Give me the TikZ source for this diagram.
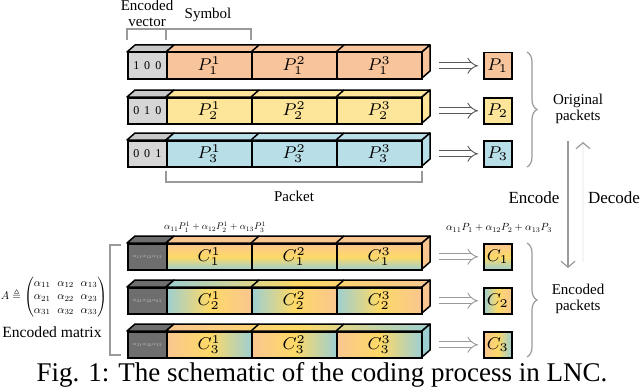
\RequirePackage{fix-cm}
\documentclass[tikz,border=0pt]{standalone}
\usepackage{amsmath,amssymb}
\usepackage[no-math]{fontspec}
\setmainfont{Liberation Serif}
\usetikzlibrary{arrows.meta, positioning, calc, decorations.pathreplacing}
\definecolor{porng}{HTML}{F8C49C}
\definecolor{pyell}{HTML}{FDE59A}
\definecolor{pblue}{HTML}{B8DEE8}
\definecolor{vgrey}{HTML}{D6D6D6}
\definecolor{vtop}{HTML}{C8C8C8}
\definecolor{mgrey}{HTML}{6E6E6E}
\definecolor{corng}{HTML}{F9C690}
\definecolor{cyell}{HTML}{FED966}
\definecolor{cteal}{HTML}{9DCFD2}
\definecolor{lgrey}{HTML}{9A9A9A}
\tikzset{
  every picture/.style={x=0.5pt, y=-0.5pt, line width=0.6pt},
  seg/.style={draw, line width=0.75pt, anchor=north west, minimum width=42.5pt, minimum height=13pt, inner sep=0pt, font=\fontsize{8.5}{9}\selectfont},
  vec/.style={seg, minimum width=19.5pt, font=\fontsize{6}{7}\selectfont},
  sbox/.style={seg, minimum width=14pt},
  face/.style={draw, line width=0.75pt, line join=round},
  gv/.style={top color=corng, bottom color=cteal, middle color=cyell},
  gl/.style={left color=cteal, right color=corng, middle color=cyell},
  gr/.style={left color=corng, right color=cteal, middle color=cyell},
  flat/.style={fill=corng},
  pipe/.style={draw=#1, double=white, double distance=2.4pt, line width=0.45pt, -{Implies}, shorten <=8pt, shorten >=2.5pt},
  pipe/.default=black!65,
  bracket/.style={draw=lgrey, line width=0.6pt},
  lbl/.style={font=\fontsize{7.5}{8}\selectfont, align=center},
}
\begin{document}
\begin{tikzpicture}
  \useasboundingbox (0,0) rectangle (640,390);
  % header: vector and symbol
  \draw[bracket] (127,40) -- (127,29) -- (251,29) -- (251,40) (166,29) -- (166,40);
  \node[lbl] (vectxt) at (147,13) {Encoded\\vector};
  \node[lbl] (symtxt) at (208,15) {Symbol};
  % original packets
  \foreach \r/\yt/\col/\v in {1/52/porng/{1 \,0 \,0}, 2/97/pyell/{0 \,1 \,0}, 3/140/pblue/{0 \,0 \,1}} {
    \filldraw[face, fill=vtop] (127,\yt) -- ++(8,-7) -- ++(39,0) -- (166,\yt) -- cycle;
    \filldraw[face, fill=\col] (166,\yt) -- ++(8,-7) -- (430,\yt-7) -- (422,\yt) -- cycle;
    \filldraw[face, fill=\col] (422,\yt) -- (430,\yt-7) -- (430,\yt+19) -- (422,\yt+26) -- cycle;
    \draw[face] (251,\yt) -- ++(8,-7) (336,\yt) -- ++(8,-7);
    \node[vec, fill=vgrey] (v\r) at (127,\yt) {\v};
    \node[seg, fill=\col] (p\r-1) at (166,\yt) {$P_{\r}^{1}$};
    \node[seg, fill=\col] (p\r-2) at (251,\yt) {$P_{\r}^{2}$};
    \node[seg, fill=\col] (p\r-3) at (336,\yt) {$P_{\r}^{3}$};
    \node[sbox, fill=\col] (sp\r) at (483,\yt) {$P_{\r}$};
    \draw[pipe] (p\r-3.east) -- (sp\r.west);
  }
  \draw[bracket] (166,171) -- (166,182) -- (422,182) -- (422,171);
  \node[lbl] (pkttxt) at (294,196) {Packet};
  \draw[bracket, decorate, decoration={brace, amplitude=5pt}] (527,52) -- (527,167);
  \node[lbl] (origtxt) at (578,109) {Original\\packets};
  % encode / decode
  \coordinate (enc0) at (568,141);
  \coordinate (enc1) at (568,268);
  \coordinate (dec0) at (583,262);
  \coordinate (dec1) at (583,142);
  \draw[draw=lgrey, -{Straight Barb[length=3pt, width=7pt]}] (enc0) -- (enc1);
  \draw[draw=gray!8, -{Straight Barb[length=3pt, width=7pt, color=lgrey]}] (dec0) -- (dec1);
  \node[lbl, font=\fontsize{8.5}{9}\selectfont] (enctxt) at (534,198) {Encode};
  \node[lbl, font=\fontsize{8.5}{9}\selectfont] (dectxt) at (614,198) {Decode};
  % encoded packets
  \node (sumsym) at (215,227) {\scalebox{0.48}{$\alpha_{11}P_1^1+\alpha_{12}P_2^1+\alpha_{13}P_3^1$}};
  \node (sumpkt) at (499,228) {\scalebox{0.52}{$\alpha_{11}P_1+\alpha_{12}P_2+\alpha_{13}P_3$}};
  \foreach \r/\yt/\sh/\tf/\sc in {1/243/gv/flat/corng, 2/287/gl/gl/corng, 3/331/gr/gr/cteal} {
    \filldraw[face, fill=mgrey] (127,\yt) -- ++(8,-7) -- ++(39,0) -- (166,\yt) -- cycle;
    \path[\tf] (166,\yt) -- ++(8,-7) -- (430,\yt-7) -- (422,\yt) -- cycle;
    \draw[face] (166,\yt) -- ++(8,-7) -- (430,\yt-7) -- (422,\yt) -- cycle;
    \filldraw[face, fill=\sc] (422,\yt) -- (430,\yt-7) -- (430,\yt+19) -- (422,\yt+26) -- cycle;
    \draw[face] (251,\yt) -- ++(8,-7) (336,\yt) -- ++(8,-7);
    \node[vec, fill=mgrey, text=gray!40] (a\r) at (127,\yt) {\scalebox{0.4}{$\alpha_{\r1}\alpha_{\r2}\alpha_{\r3}$}};
    \node[seg, \sh] (c\r-1) at (166,\yt) {$C_{\r}^{1}$};
    \node[seg, \sh] (c\r-2) at (251,\yt) {$C_{\r}^{2}$};
    \node[seg, \sh] (c\r-3) at (336,\yt) {$C_{\r}^{3}$};
    \node[sbox, \sh] (sc\r) at (483,\yt) {$C_{\r}$};
    \draw[pipe=lgrey] (c\r-3.east) -- (sc\r.west);
  }
  \draw[bracket, decorate, decoration={brace, amplitude=5pt}] (527,243) -- (527,357);
  \node[lbl] (enctxt2) at (578,299) {Encoded\\packets};
  % encoded matrix
  \draw[bracket] (121,245) -- (110,245) -- (110,355) -- (121,355);
  \node[inner sep=0pt] (amat) at (54,297)
    {\scalebox{0.56}{\setlength\arraycolsep{3pt}$A \triangleq \begin{pmatrix} \alpha_{11} & \alpha_{12} & \alpha_{13}\\ \alpha_{21} & \alpha_{22} & \alpha_{23}\\ \alpha_{31} & \alpha_{32} & \alpha_{33}\end{pmatrix}$}};
  \node[lbl, font=\fontsize{7.8}{9}\selectfont] (mattxt) at (52,332) {Encoded matrix};
  % caption
  \node[font=\fontsize{13.5}{15}\selectfont] (caption) at (322,375) {Fig. 1: The schematic of the coding process in LNC.};
\end{tikzpicture}
\end{document}
